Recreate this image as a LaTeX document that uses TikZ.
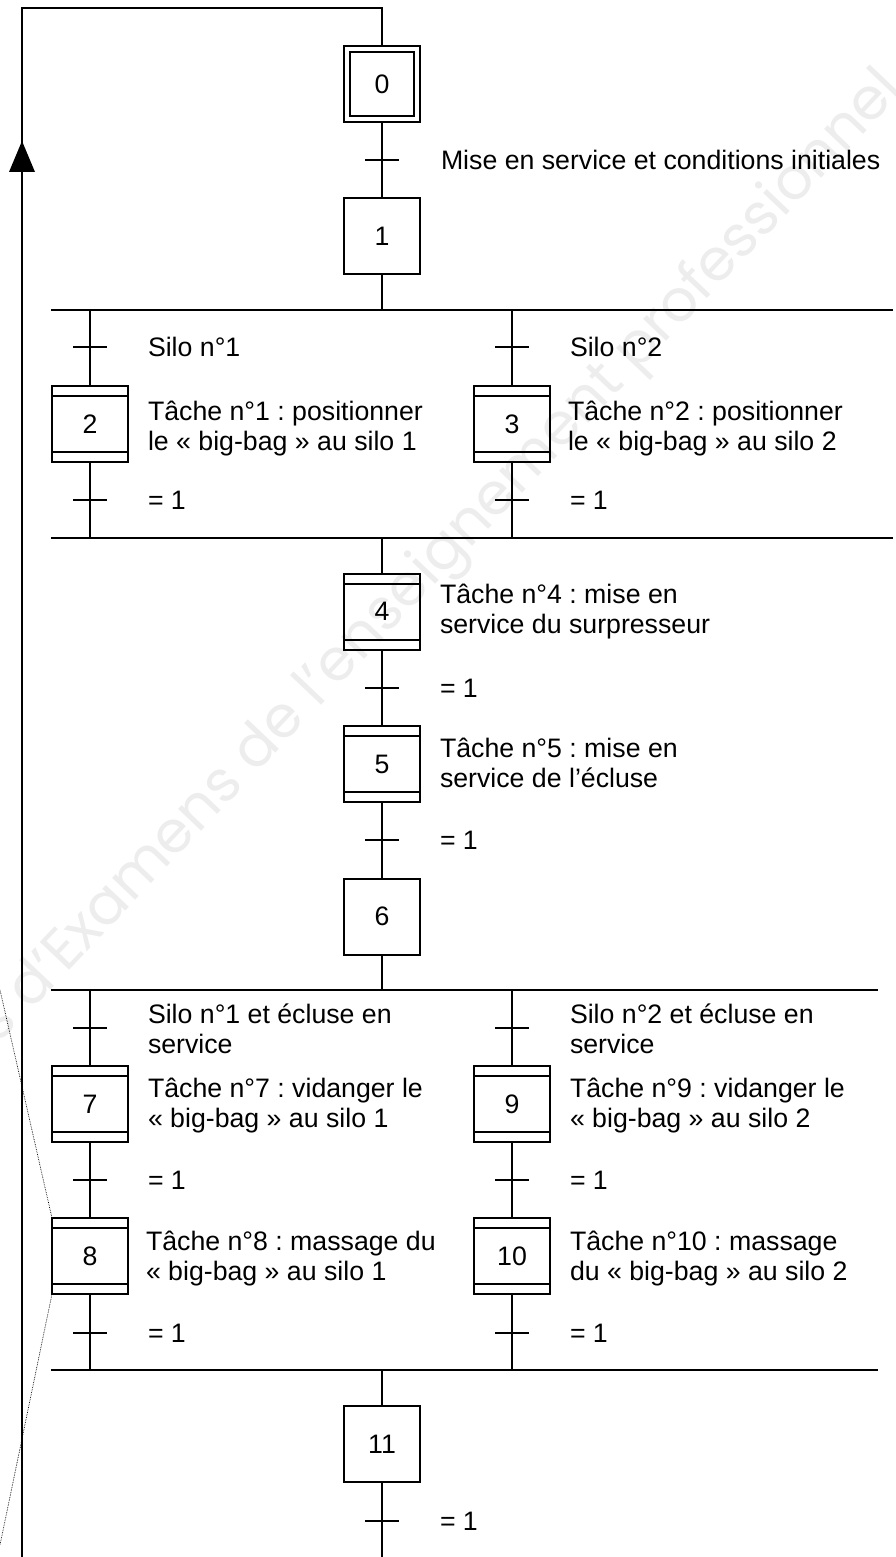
\documentclass[tikz,border=0pt]{standalone}
\usepackage{fontspec}
\setmainfont{Liberation Sans}
\newfontfamily\wmfont{Poppins}
\usetikzlibrary{calc}
\newcommand\twol[2]{\begin{tabular}[t]{@{}l@{}}#1\\#2\end{tabular}}
\begin{document}
\frenchspacing
\begin{tikzpicture}[x=1pt,y=-1pt,
  line width=2pt,
  every node/.style={font=\fontsize{26.7}{30}\selectfont},
  stepbox/.style={draw, line width=2pt, minimum width=76pt, minimum height=76pt, inner sep=0pt, outer sep=0pt},
  lbl/.style={anchor=base west, inner sep=0pt, outer sep=0pt},
  tickline/.style={line width=2pt},
  calloutline/.style={line width=0.7pt, densely dotted},
  wmark/.style={rotate=46.5, anchor=base east, text=black!7, inner sep=0pt, font=\wmfont\fontsize{58}{64}\selectfont}
]
\useasboundingbox (0,0) rectangle (895,1557);
% watermark
\begin{scope}
\clip (0,0) rectangle (895,1557);
\node[wmark] (wm) at (905,90) {Base Nationale des Sujets d’Examens de l’enseignement professionnel};
\end{scope}

\newcommand\gtick[1]{\draw[tickline] ([xshift=-17pt]#1) -- ([xshift=17pt]#1);}
\newcommand\macrolines[1]{\draw ([yshift=-10pt]#1.north west) -- ([yshift=-10pt]#1.north east) ([yshift=10pt]#1.south west) -- ([yshift=10pt]#1.south east);}

% steps
\node[stepbox] (s0) at (382,84) {0};
\draw ($(s0.north west)+(6,6)$) rectangle ($(s0.south east)+(-6,-6)$);
\node[stepbox] (s1) at (382,236) {1};
\node[stepbox] (s2) at (90,424) {2};
\node[stepbox] (s3) at (512,424) {3};
\node[stepbox] (s4) at (382,611.5) {4};
\node[stepbox] (s5) at (382,764) {5};
\node[stepbox] (s6) at (382,916.5) {6};
\node[stepbox] (s7) at (90,1104) {7};
\node[stepbox] (s9) at (512,1104) {9};
\node[stepbox] (s8) at (90,1256) {8};
\node[stepbox] (s10) at (512,1256) {10};
\node[stepbox] (s11) at (382,1444) {11};
\macrolines{s2}\macrolines{s3}\macrolines{s4}\macrolines{s5}
\macrolines{s7}\macrolines{s9}\macrolines{s8}\macrolines{s10}

% coordinates
\coordinate (top) at (382,8); \coordinate (topl) at (22,8);
\coordinate (botl) at (22,1557); \coordinate (botc) at (382,1557);
\coordinate (arr) at (22,141);
\coordinate (t01) at (382,160);
\coordinate (d1l) at (51,310); \coordinate (d1r) at (893,310); \coordinate (d1c) at (382,310);
\coordinate (d1a) at (90,310); \coordinate (d1b) at (512,310);
\coordinate (t2) at (90,347); \coordinate (t3) at (512,347);
\coordinate (t2b) at (90,500); \coordinate (t3b) at (512,500);
\coordinate (c1l) at (51,538); \coordinate (c1r) at (893,538); \coordinate (c1c) at (382,538);
\coordinate (c1a) at (90,538); \coordinate (c1b) at (512,538);
\coordinate (t45) at (382,688); \coordinate (t56) at (382,840);
\coordinate (d2l) at (51,990); \coordinate (d2r) at (878,990); \coordinate (d2c) at (382,990);
\coordinate (d2a) at (90,990); \coordinate (d2b) at (512,990);
\coordinate (t7) at (90,1028); \coordinate (t9) at (512,1028);
\coordinate (t78) at (90,1180); \coordinate (t910) at (512,1180);
\coordinate (t8b) at (90,1333); \coordinate (t10b) at (512,1333);
\coordinate (c2l) at (51,1370); \coordinate (c2r) at (878,1370); \coordinate (c2c) at (382,1370);
\coordinate (c2a) at (90,1370); \coordinate (c2b) at (512,1370);
\coordinate (t11) at (382,1521);
\coordinate (dot1) at (0,990); \coordinate (dot2) at (0,1545);

% links
\draw (botl) -- (topl) -- (top) -- (s0.north);
\fill (arr) -- ++(-13,31) -- ++(26,0) -- cycle;
\draw (s0.south) -- (s1.north);
\draw (s1.south) -- (d1c);
\draw (d1l) -- (d1r);
\draw (d1a) -- (s2.north); \draw (s2.south) -- (c1a);
\draw (d1b) -- (s3.north); \draw (s3.south) -- (c1b);
\draw (c1l) -- (c1r);
\draw (c1c) -- (s4.north);
\draw (s4.south) -- (s5.north);
\draw (s5.south) -- (s6.north);
\draw (s6.south) -- (d2c);
\draw (d2l) -- (d2r);
\draw (d2a) -- (s7.north); \draw (s7.south) -- (s8.north); \draw (s8.south) -- (c2a);
\draw (d2b) -- (s9.north); \draw (s9.south) -- (s10.north); \draw (s10.south) -- (c2b);
\draw (c2l) -- (c2r);
\draw (c2c) -- (s11.north);
\draw (s11.south) -- (botc);

% transitions
\gtick{t01}\gtick{t2}\gtick{t3}\gtick{t2b}\gtick{t3b}\gtick{t45}\gtick{t56}
\gtick{t7}\gtick{t9}\gtick{t78}\gtick{t910}\gtick{t8b}\gtick{t10b}\gtick{t11}

% callout dotted lines
\draw[calloutline] (dot1) -- (s8.north west);
\draw[calloutline] (s8.south west) -- (dot2);

% labels
\node[lbl] (l01) at (441,170) {Mise en service et conditions initiales};
\node[lbl] (l2a) at (148,356) {Silo n°1};
\node[lbl] (l3a) at (570,356) {Silo n°2};
\node[lbl] (l2) at (148,420) {\twol{Tâche n°1 : positionner}{le « big-bag » au silo 1}};
\node[lbl] (l3) at (568,420) {\twol{Tâche n°2 : positionner}{le « big-bag » au silo 2}};
\node[lbl] (l2b) at (148,509) {= 1};
\node[lbl] (l3b) at (570,509) {= 1};
\node[lbl] (l4) at (440,603) {\twol{Tâche n°4 : mise en}{service du surpresseur}};
\node[lbl] (l45) at (440,697) {= 1};
\node[lbl] (l5) at (440,757) {\twol{Tâche n°5 : mise en}{service de l’écluse}};
\node[lbl] (l56) at (440,849) {= 1};
\node[lbl] (l7a) at (148,1023) {\twol{Silo n°1 et écluse en}{service}};
\node[lbl] (l9a) at (570,1023) {\twol{Silo n°2 et écluse en}{service}};
\node[lbl] (l7) at (148,1097) {\twol{Tâche n°7 : vidanger le}{« big-bag » au silo 1}};
\node[lbl] (l9) at (570,1097) {\twol{Tâche n°9 : vidanger le}{« big-bag » au silo 2}};
\node[lbl] (l78) at (148,1189) {= 1};
\node[lbl] (l910) at (570,1189) {= 1};
\node[lbl] (l8) at (146,1250) {\twol{Tâche n°8 : massage du}{« big-bag » au silo 1}};
\node[lbl] (l10) at (570,1250) {\twol{Tâche n°10 : massage}{du « big-bag » au silo 2}};
\node[lbl] (l8b) at (148,1342) {= 1};
\node[lbl] (l10b) at (570,1342) {= 1};
\node[lbl] (l11) at (440,1530) {= 1};
\end{tikzpicture}
\end{document}
